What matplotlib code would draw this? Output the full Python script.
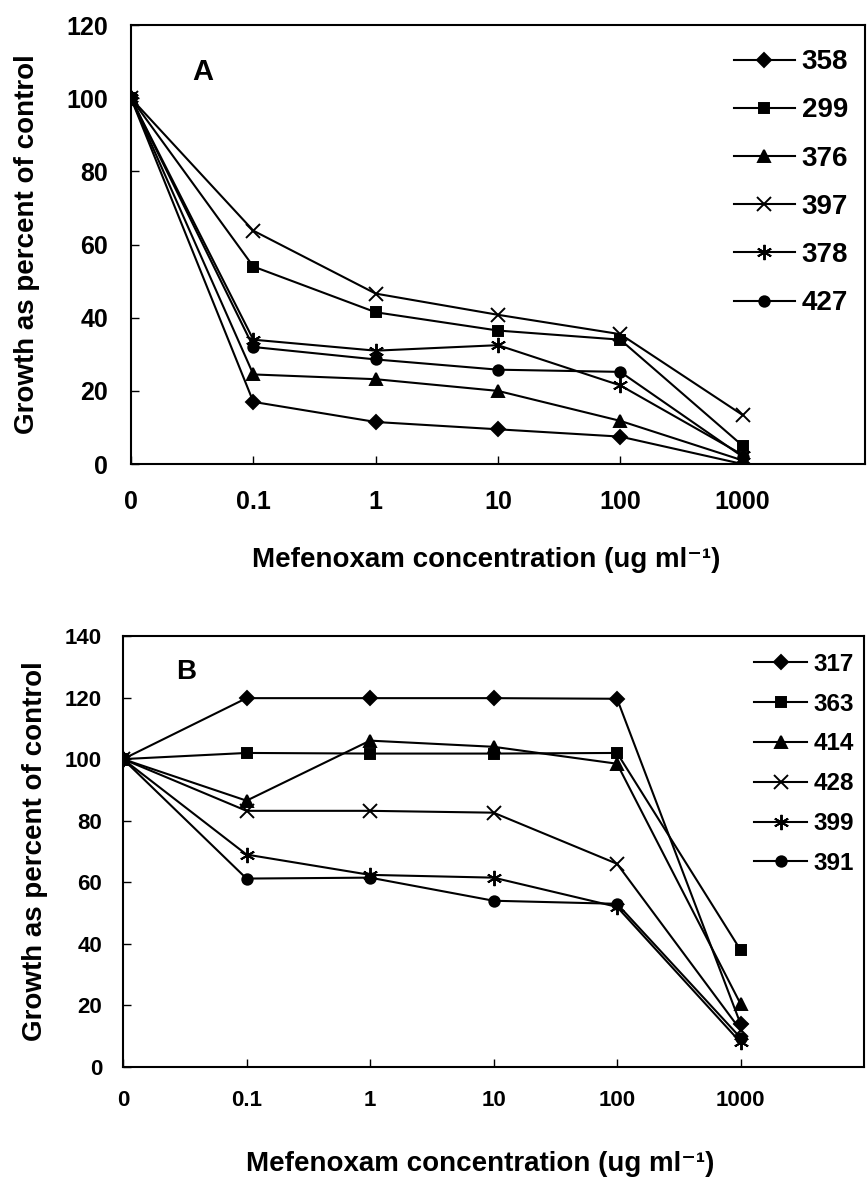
import matplotlib
matplotlib.use("Agg")
import matplotlib.pyplot as plt

# ── Data ──────────────────────────────────────────────────
conc_labels = ["0", "0.1", "1", "10", "100", "1000"]

isolates_a = ["358", "299", "376", "397", "378", "427"]
growth_a = [
    [100, 17, 11.5, 9.5, 7.5, 0],
    [100, 54, 41.5, 36.5, 34, 5],
    [100, 24.5, 23.2, 20, 11.8, 1],
    [100, 63.8, 46.6, 40.8, 35.5, 13.4],
    [100, 34, 31, 32.5, 21.5, 2.5],
    [100, 32, 28.6, 25.8, 25.2, 2],
]

isolates_b = ["317", "363", "414", "428", "399", "391"]
growth_b = [
    [100, 119.8, 119.8, 119.8, 119.6, 14],
    [100, 102, 101.8, 101.8, 102, 38],
    [100, 86.5, 106, 104, 98.5, 20.5],
    [100, 83.2, 83.2, 82.6, 66, 12],
    [100, 69, 62.4, 61.5, 52, 8],
    [100, 61.2, 61.5, 54, 53, 9.5],
]

markers = ["D", "s", "^", "x", (6, 2, 0), "o"]
msizes = [7.5, 7.5, 8.5, 10, 11, 7.5]

FONT = ["Liberation Sans", "DejaVu Sans"]
plt.rcParams["font.family"] = FONT
plt.rcParams["font.weight"] = "bold"

fig = plt.figure(figsize=(8.67, 11.79), dpi=100)


def draw_panel(rect, names, series, ymax, letter, letter_xy, letter_fs,
               tick_fs, xpad, ypad, leg_fs, leg_spacing, leg_anchor,
               ylab_x, xlab_xy):
    ax = fig.add_axes(rect)
    xs = list(range(len(conc_labels)))
    for name, vals, mk, ms in zip(names, series, markers, msizes):
        ax.plot(xs, vals, color="black", lw=1.5, marker=mk, ms=ms,
                mfc="black", mec="black", mew=1.4, label=name)

    ax.set_xlim(0, 6)
    ax.set_ylim(0, ymax)
    ax.set_xticks(xs)
    ax.set_xticklabels(conc_labels)
    ax.set_yticks(range(0, ymax + 1, 20))
    ax.tick_params(axis="x", direction="in", length=6, width=1,
                   labelsize=tick_fs, pad=xpad)
    ax.tick_params(axis="y", direction="in", length=6, width=1,
                   labelsize=tick_fs, pad=ypad)
    for s in ax.spines.values():
        s.set_linewidth(1.5)

    ax.text(letter_xy[0], letter_xy[1], letter, transform=ax.transAxes,
            fontsize=letter_fs, fontweight="bold", ha="center", va="center")

    ax.set_ylabel("Growth as percent of control", fontsize=20,
                  fontweight="bold", va="center")
    ax.yaxis.set_label_coords(ylab_x, 0.5)
    ax.set_xlabel("Mefenoxam concentration (ug ml\u207b\u00b9)",
                  fontsize=20, fontweight="bold", va="center")
    ax.xaxis.set_label_coords(*xlab_xy)

    ax.legend(loc="upper right", bbox_to_anchor=leg_anchor, frameon=False,
              fontsize=leg_fs, handlelength=2.2, handletextpad=0.25,
              labelspacing=leg_spacing, borderaxespad=0, borderpad=0)
    return ax


draw_panel([0.1511, 0.6064, 0.8466, 0.3723], isolates_a, growth_a, 120,
           "A", (0.098, 0.893), 21, tick_fs=18, xpad=19, ypad=16.5,
           leg_fs=20, leg_spacing=0.80, leg_anchor=(0.977, 0.945),
           ylab_x=-0.142, xlab_xy=(0.484, -0.219))

draw_panel([0.1419, 0.0950, 0.8547, 0.3656], isolates_b, growth_b, 140,
           "B", (0.085, 0.916), 20, tick_fs=16, xpad=16.5, ypad=15,
           leg_fs=17.5, leg_spacing=0.69, leg_anchor=(0.9865, 0.9606),
           ylab_x=-0.119, xlab_xy=(0.482, -0.225))

fig.savefig("out.png", dpi=100)
